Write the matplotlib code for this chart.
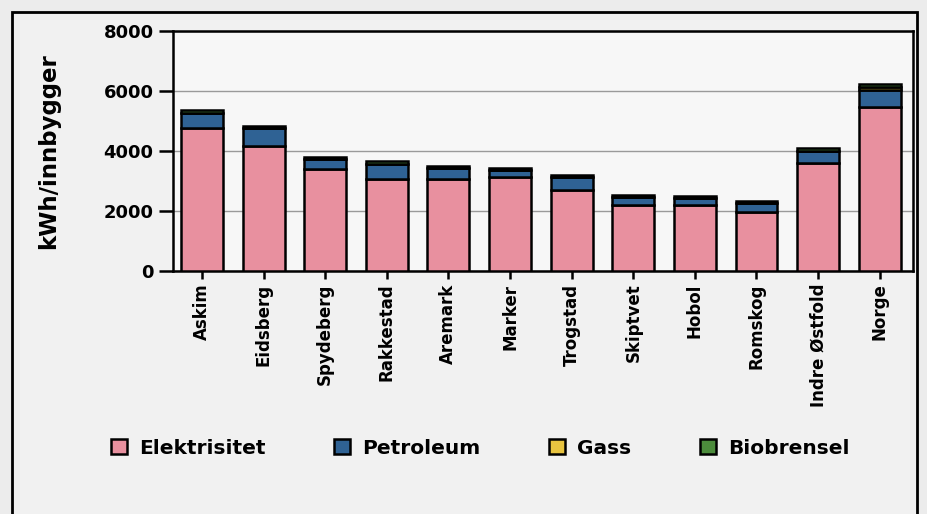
import matplotlib.pyplot as plt
import matplotlib.patches as patches
import numpy as np

# kWh per innbygger
kommuner = ["Askim", "Eidsberg", "Spydeberg", "Rakkestad", "Aremark", "Marker",
            "Trogstad", "Skiptvet", "Hobol", "Romskog", "Indre Østfold", "Norge"]
elektrisitet = [4760, 4170, 3390, 3060, 3060, 3140, 2700, 2200, 2200, 1960, 3590, 5480]
petroleum = [500, 590, 330, 510, 370, 220, 420, 260, 220, 320, 410, 550]
gass = [0, 0, 0, 0, 0, 0, 0, 0, 0, 0, 0, 100]
biobrensel = [100, 90, 90, 90, 80, 70, 90, 90, 70, 60, 90, 90]

serier = ["Elektrisitet", "Petroleum", "Gass", "Biobrensel"]
farger = ["#e8909f", "#2f6294", "#e8c440", "#4c8c3c"]

fig = plt.figure(figsize=(9.28, 5.14), dpi=100, facecolor="#ececec")

# outer frame around the whole chart
ramme = patches.Rectangle((12 / 928, -0.1), 905 / 928, 1 - 12 / 514 + 0.1,
                          transform=fig.transFigure, fill=True,
                          facecolor="#f1f1f1", edgecolor="black",
                          linewidth=2, zorder=-5)
fig.patches.append(ramme)

ax = fig.add_axes([173 / 928, 1 - 271 / 514, 740 / 928, 240 / 514], zorder=2)
ax.set_facecolor("#f7f7f7")

x = np.arange(len(kommuner))
bunn = np.zeros(len(kommuner))
for navn, verdier, farge in zip(serier, [elektrisitet, petroleum, gass, biobrensel], farger):
    ax.bar(x, verdier, bottom=bunn, width=0.68, color=farge, edgecolor="black",
           linewidth=1.8, label=navn, zorder=3)
    bunn += np.array(verdier)

ax.set_xlim(-0.47, 11.54)
ax.set_ylim(0, 8000)
ax.set_yticks([0, 2000, 4000, 6000, 8000])
ax.set_yticklabels(["0", "2000", "4000", "6000", "8000"], fontsize=13, fontweight="bold")
ax.set_xticks(x)
ax.set_xticklabels(kommuner, rotation=90, fontsize=12, fontweight="bold")
ax.tick_params(axis="y", length=10, width=1.8, pad=4)
ax.tick_params(axis="x", length=6, width=1.8, pad=3)
ax.yaxis.grid(True, color="#9a9a9a", linewidth=1, zorder=0)
ax.set_axisbelow(True)
for s in ax.spines.values():
    s.set_linewidth(1.8)

ax.set_ylabel("kWh/innbygger", fontsize=16.5, fontweight="bold")
ax.yaxis.set_label_coords(-0.153, 0.5)

fig.legend(loc="center", bbox_to_anchor=(480 / 928, 1 - 448 / 514), ncol=4,
           frameon=False, prop={"size": 14.5, "weight": "bold"},
           handlelength=0.8, handleheight=0.8, handletextpad=0.6, columnspacing=3.4)

fig.savefig("out.png", dpi=100, facecolor=fig.get_facecolor())
